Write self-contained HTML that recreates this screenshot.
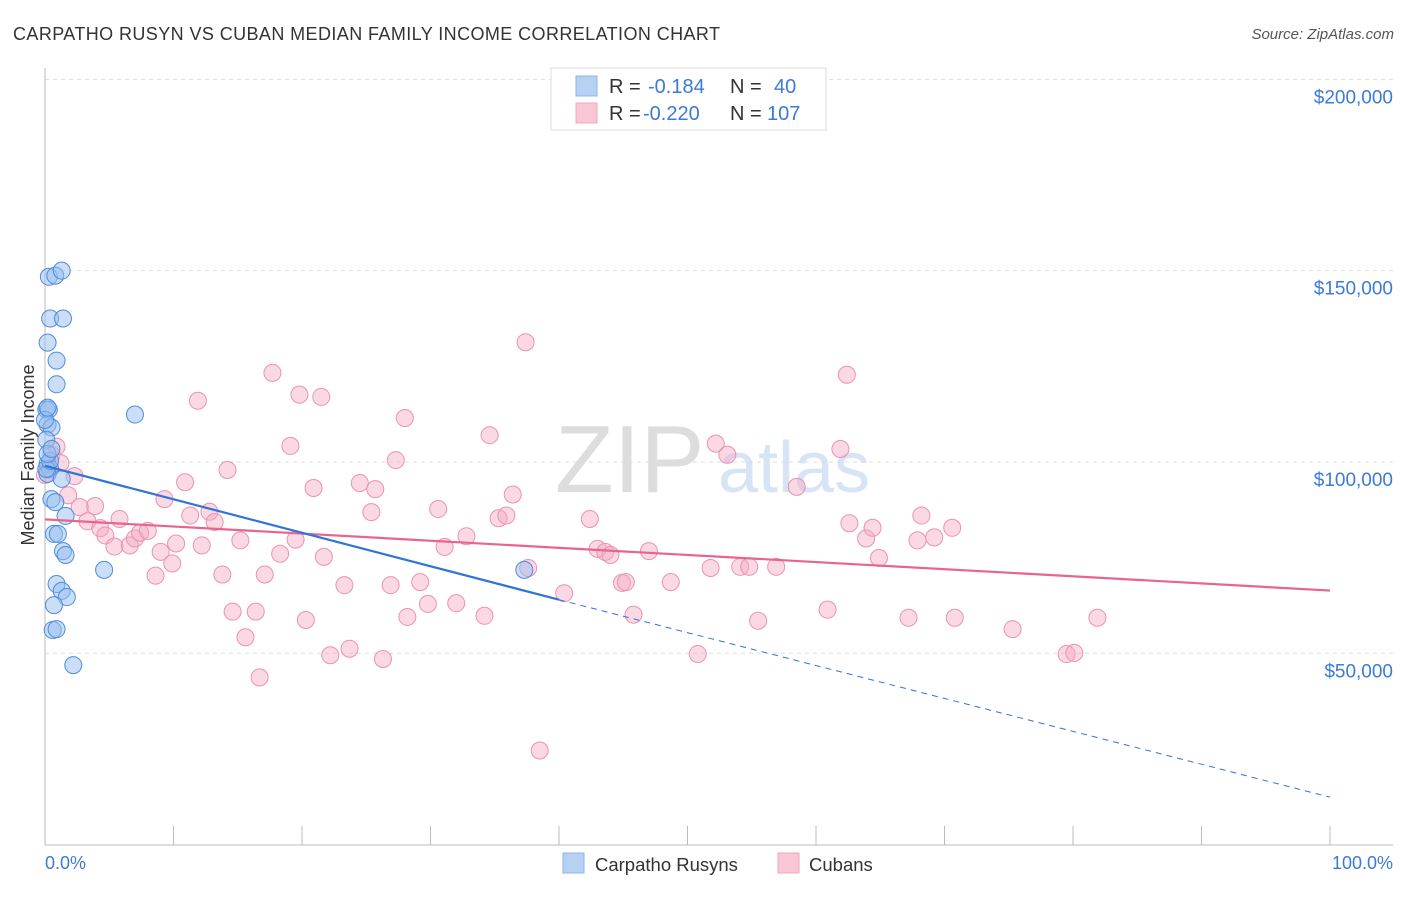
<!DOCTYPE html>
<html><head><meta charset="utf-8"><style>
body{margin:0;background:#fff;font-family:"Liberation Sans",sans-serif;}
svg text{font-family:"Liberation Sans",sans-serif;}
</style></head><body>
<svg width="1406" height="892">
<text x="13" y="40" font-size="18" fill="#333" textLength="707">CARPATHO RUSYN VS CUBAN MEDIAN FAMILY INCOME CORRELATION CHART</text>
<text x="1394" y="39" font-size="15" fill="#555" font-style="italic" text-anchor="end">Source: ZipAtlas.com</text>
<text x="555" y="492" font-size="96" fill="#ddd" font-family="Liberation Serif">ZIP</text>
<text x="718" y="492" font-size="72" fill="#d6e4f5">atlas</text>
<g id="grid"></g>
<line x1="45" y1="68" x2="45" y2="845" stroke="#bbb"/>
<line x1="45" y1="845" x2="1393" y2="845" stroke="#bbb"/>
<g id="ticks"></g>
<text x="34" y="455" font-size="18" fill="#333" text-anchor="middle" transform="rotate(-90 34 455)">Median Family Income</text>
<text x="45" y="869" font-size="18" fill="#3a7bd5">0.0%</text>
<text x="1393" y="869" font-size="18" fill="#3a7bd5" text-anchor="end">100.0%</text>
<g id="pts"></g>
<g id="lines"></g>
<g>
<rect x="551" y="68" width="275" height="62" fill="#fff" stroke="#ddd"/>
<rect x="576" y="76" width="21" height="20" fill="#b7d1f3" stroke="#8ab3e8"/>
<rect x="576" y="103" width="21" height="20" fill="#f9c6d5" stroke="#f0a6bd"/>
<text x="609" y="93" font-size="20" fill="#333">R = </text><text x="648" y="93" font-size="20" fill="#3a7bd5">-0.184</text>
<text x="730" y="93" font-size="20" fill="#333">N = </text><text x="774" y="93" font-size="20" fill="#3a7bd5">40</text>
<text x="609" y="120" font-size="20" fill="#333">R = </text><text x="643" y="120" font-size="20" fill="#3a7bd5">-0.220</text>
<text x="730" y="120" font-size="20" fill="#333">N = </text><text x="767" y="120" font-size="20" fill="#3a7bd5">107</text>
</g>
<g>
<rect x="563" y="853" width="21" height="20" fill="#b7d1f3" stroke="#8ab3e8"/>
<text x="595" y="871" font-size="18.5" fill="#333">Carpatho Rusyns</text>
<rect x="778" y="853" width="21" height="20" fill="#f9c6d5" stroke="#f0a6bd"/>
<text x="809" y="871" font-size="18.5" fill="#333">Cubans</text>
</g>
</svg>
<script>
const yTicks=[50000,100000,150000,200000];
const yTickLabels=["$50,000","$100,000","$150,000","$200,000"];
const blueX=[0.3,0.8,1.3,0.4,1.4,0.2,0.9,0.9,0.1,0.3,0.2,0.5,0.1,7.0,0.2,0.4,0.2,1.3,0.5,0.8,1.6,0.7,1.0,1.4,1.6,4.6,37.3,0.9,1.3,1.7,0.7,0.6,0.9,2.2,0.1,0.4,0.2,0.5,0.0,0.2];
const blueY=[148400,148700,150000,137500,137500,131200,126500,120300,113700,113700,109800,109000,105800,112400,99500,98200,96900,95600,90300,89500,85900,81200,81200,76700,75700,71800,71800,68100,66300,64700,62600,56100,56300,46900,98200,100300,102100,103400,111000,114200];
const pinkX=[0.9,0.5,1.2,0.2,2.3,1.8,3.9,2.7,3.3,4.3,5.8,4.7,5.4,6.6,7.0,7.4,8.0,8.6,9.0,9.3,9.9,10.2,10.9,11.3,11.9,12.2,12.8,13.2,13.8,14.2,14.6,15.2,15.6,16.4,16.7,17.1,17.7,18.3,19.1,19.5,19.8,20.3,20.9,21.5,21.7,22.2,23.3,23.7,24.5,25.4,25.7,26.3,26.9,27.3,28.0,28.2,29.2,29.8,30.6,31.1,32.0,32.8,34.2,34.6,35.3,35.9,36.4,37.4,37.6,38.5,40.4,42.4,43.0,43.6,44.0,44.9,45.2,45.8,47.0,48.7,50.8,51.8,52.2,53.1,54.1,54.8,55.5,56.9,58.5,60.9,61.9,62.4,62.6,63.9,64.4,64.9,67.2,67.9,68.2,69.2,70.6,70.8,75.3,79.5,80.1,81.9,0.0];
const pinkY=[104000,101900,99700,97900,96300,91300,88500,88200,84500,82700,85100,80800,77900,78200,80000,81500,82000,70300,76500,90300,73500,78700,94700,86000,116000,78200,87000,84300,70600,97900,60900,79500,54200,60900,43700,70600,123300,76000,104200,79700,117600,58700,93200,117000,75200,49500,67800,51200,94500,86900,92900,48500,67800,100500,111500,59500,68600,62900,87700,77800,63100,80600,59800,107000,85300,86000,91500,131300,72300,24600,65700,85100,77300,76500,75700,68400,68600,60100,76700,68600,49800,72300,104800,101900,72600,72600,58500,72600,93500,61400,103400,122800,84000,80000,82800,74900,59300,79500,86000,80300,82800,59300,56300,49800,50100,59300,96600];
const blueLine=[[0,99000],[40,64000]];
const blueDash=[[40,64000],[100,12400]];
const pinkLine=[[0,85000],[100,66400]];

const X=p=>45+p*12.85;
const Y=v=>844.6-v*0.0038262;
const NS="http://www.w3.org/2000/svg";
function mk(t,a){const e=document.createElementNS(NS,t);for(const k in a)e.setAttribute(k,a[k]);return e;}
const grid=document.getElementById('grid');
yTicks.forEach((v,i)=>{
 const l=mk('line',{x1:45,x2:1393,y1:Y(v),y2:Y(v),stroke:'#ddd','stroke-dasharray':'4,4'});
 
 
 grid.appendChild(l);
 const t=mk('text',{x:1393,y:Y(v)+24,'font-size':19,fill:'#3a7bd5','text-anchor':'end'});
 t.textContent=yTickLabels[i];
 
 
 grid.appendChild(t);
});
const ticks=document.getElementById('ticks');
for(let i=1;i<=10;i++){
 const l=mk('line',{x1:X(i*10),x2:X(i*10),y1:826,y2:845,stroke:'#bbb'});
 
 
 ticks.appendChild(l);
}
const pts=document.getElementById('pts');
pinkX.forEach((x,i)=>{
 const c=mk('circle',{cx:X(x),cy:Y(pinkY[i]),r:8.5,fill:'rgba(245,170,195,0.45)',stroke:'#eb92b0','stroke-width':1});
 
 
 pts.appendChild(c);
});
blueX.forEach((x,i)=>{
 const c=mk('circle',{cx:X(x),cy:Y(blueY[i]),r:8.5,fill:'rgba(150,190,240,0.5)',stroke:'#4f8cdb','stroke-width':1});
 
 
 pts.appendChild(c);
});
const lines=document.getElementById('lines');
function ln(p,col,w,dash,name){
 const a={x1:X(p[0][0]),y1:Y(p[0][1]),x2:X(p[1][0]),y2:Y(p[1][1]),stroke:col,'stroke-width':w};
 if(dash)a['stroke-dasharray']=dash;
 const l=mk('line',a);
 
 
 lines.appendChild(l);
}
ln(pinkLine,'#e8648f',2.2,null,'cubans-trendline');
ln(blueLine,'#2f74d6',2.2,null,'rusyns-trendline');
ln(blueDash,'#2f74d6',1,'6,5','rusyns-trendline-extension');
</script>
</body></html>
